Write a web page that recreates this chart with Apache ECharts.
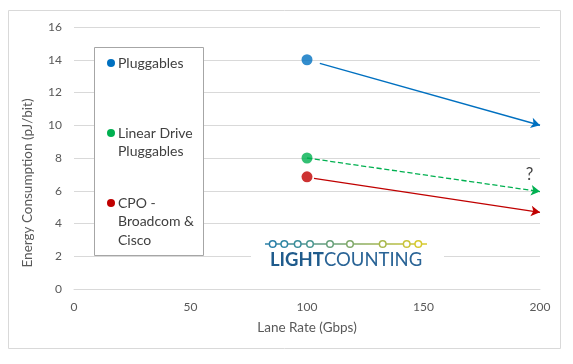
<!DOCTYPE html>
<html><head><meta charset="utf-8">
<script src="https://cdn.jsdelivr.net/npm/echarts@6/dist/echarts.min.js"></script>
<style>html,body{margin:0;padding:0;background:#fff}#c{width:573px;height:364px}</style>
</head><body><div id="c"></div>
<script>
const seriesNames = ['Pluggables', 'Linear Drive Pluggables', 'CPO - Broadcom & Cisco'];
const legendLabels = ['Pluggables', 'Linear Drive\nPluggables', 'CPO -\nBroadcom &\nCisco'];
const colors = ['#0070c0', '#00b050', '#c00000'];
const pointX = [100, 100, 100];
const pointY = [14, 8, 6.85];
const lineStartX = [105.5, 100, 103];
const lineStartY = [13.78, 8, 6.75];
const lineEndX = [200, 200, 200];
const lineEndY = [10, 5.95, 4.68];
const lineTypes = ['solid', 'dashed', 'solid'];
const yTicks = [0, 2, 4, 6, 8, 10, 12, 14, 16];
const xTicks = [0, 50, 100, 150, 200];
const questionPos = [195.5, 7.0];

const chart = echarts.init(document.getElementById('c'));
const font = 'Lato, "Open Sans", sans-serif';
const series = seriesNames.map((n, i) => ({
  name: n, type: 'scatter', symbol: 'circle', symbolSize: 11,
  itemStyle: {color: colors[i]},
  data: [[pointX[i], pointY[i]]],
  z: 5,
  markLine: {
    silent: true, symbol: ['none', 'arrow'], symbolSize: [8, 9],
    label: {show: false},
    lineStyle: {color: colors[i], width: 1.3, type: lineTypes[i]},
    data: [[{coord: [lineStartX[i], lineStartY[i]]}, {coord: [lineEndX[i], lineEndY[i]]}]]
  }
}));
series.push({
  type: 'scatter', symbolSize: 0, silent: true,
  data: [questionPos],
  label: {show: true, formatter: '?', position: 'inside', fontSize: 17, color: '#111', fontFamily: font}
});

const logoDots = [272.7, 284.3, 297.7, 310, 330, 350, 382.7, 406.7, 418.3];
const dotColors = ['#2a7fa8','#2f86a4','#3a8d9a','#4a9690','#669f7a','#7fa86a','#a9b84d','#c9c43a','#d6c92f'];
const graphics = [
  {type: 'rect', shape: {x: 8.5, y: 10.5, width: 552, height: 338}, style: {fill: 'none', stroke: '#d9d9d9', lineWidth: 1}, z: -10},
  {type: 'rect', shape: {x: 94.5, y: 47.5, width: 109, height: 208}, style: {fill: '#fff', stroke: '#a6a6a6', lineWidth: 1}, z: 10},
  {type: 'rect', shape: {x: 251, y: 234, width: 193, height: 40}, style: {fill: '#fff'}, z: 10},
  {type: 'line', shape: {x1: 265, y1: 244, x2: 427, y2: 244}, style: {stroke: new echarts.graphic.LinearGradient(0, 0, 1, 0, [{offset: 0, color: '#2a7fa8'}, {offset: 0.45, color: '#6fa374'}, {offset: 1, color: '#dccb2a'}]), lineWidth: 1.5}, z: 11},
  {type: 'text', x: 270, y: 260, style: {text: '{b|LIGHT}{r|COUNTING}', rich: {b: {fontWeight: 'bold', fontSize: 18.5, fill: '#1f5b8c', fontFamily: 'Lato, sans-serif'}, r: {fontSize: 18.5, fill: '#2a6496', fontFamily: 'Lato, sans-serif'}}, verticalAlign: 'middle'}, z: 11}
];
logoDots.forEach((x, i) => graphics.push({type: 'circle', shape: {cx: x, cy: 244, r: 3.3}, style: {fill: '#fff', stroke: dotColors[i], lineWidth: 1.5}, z: 12}));
const legendY = [63, 133, 203];
legendLabels.forEach((t, i) => {
  graphics.push({type: 'circle', shape: {cx: 111, cy: legendY[i], r: 4}, style: {fill: colors[i]}, z: 11});
  graphics.push({type: 'text', x: 118, y: legendY[i] - 9, style: {text: t, fontSize: 14, lineHeight: 18.5, fill: '#404040', fontFamily: font, verticalAlign: 'top'}, z: 11});
});

chart.setOption({
  animation: false,
  textStyle: {fontFamily: font},
  grid: {left: 74, right: 33, top: 27, bottom: 75},
  xAxis: {
    type: 'value', min: xTicks[0], max: xTicks[xTicks.length - 1], interval: 50,
    name: 'Lane Rate (Gbps)', nameLocation: 'middle', nameGap: 32,
    nameTextStyle: {fontSize: 13.5, color: '#595959', fontFamily: font},
    axisLine: {show: true, lineStyle: {color: '#d9d9d9'}}, axisTick: {show: false},
    splitLine: {show: false},
    axisLabel: {fontSize: 12, color: '#595959', margin: 12, fontFamily: font}
  },
  yAxis: {
    type: 'value', min: yTicks[0], max: yTicks[yTicks.length - 1], interval: 2,
    name: 'Energy Consumption (pJ/bit)', nameLocation: 'middle', nameGap: 39,
    nameTextStyle: {fontSize: 13.5, color: '#595959', fontFamily: font, padding: [0, 50, 0, 0]},
    axisLine: {show: false}, axisTick: {show: false},
    splitLine: {lineStyle: {color: '#d9d9d9'}},
    axisLabel: {fontSize: 12, color: '#595959', margin: 12, fontFamily: font}
  },
  graphic: graphics,
  series: series
});
</script></body></html>
